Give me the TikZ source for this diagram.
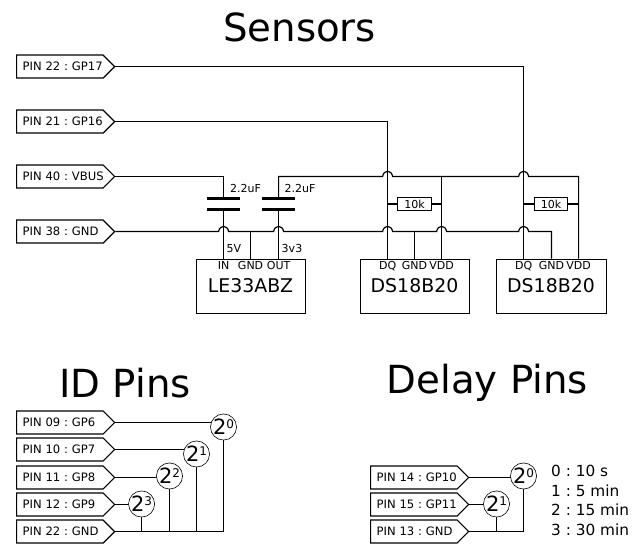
\documentclass[tikz,border=0pt]{standalone}
\usepackage{fontspec}
\setmainfont{DejaVu Sans}
\usetikzlibrary{shapes.symbols,backgrounds}
\frenchspacing
\newcommand\fs[1]{\fontsize{#1}{#1}\selectfont}
\newcommand\pn[1]{\makebox[0pt][l]{#1}}
\newcommand\hop[2]{-- ({#1-5},#2) .. controls ({#1-4},{#2-7}) and ({#1+4},{#2-7}) .. ({#1+5},#2)}
\tikzset{
 x=1pt,y=-1pt,
 wire/.style={line width=1.2pt,line join=miter},
 pinflag/.style={shape=signal,signal to=east,signal pointer angle=90,draw,line width=1.2pt,
   anchor=west,minimum height=23pt,text width=74.5pt,inner xsep=6pt,inner ysep=0pt,align=left,font=\fs{11.6}},
 title/.style={font=\fs{38.7}},
 chip/.style={draw,line width=1.2pt,minimum width=109.5pt,minimum height=54.5pt,anchor=north west},
 chipname/.style={font=\fs{18.9}},
 small/.style={font=\fs{11},inner sep=0pt,anchor=base},
 plate/.style={line width=2.6pt},
 resistor/.style={draw,line width=1.2pt,minimum width=33.5pt,minimum height=12.5pt,inner sep=0pt,font=\fs{11}},
 bit/.style={circle,draw,line width=0.6pt,fill=white,minimum size=21.5pt,inner sep=0pt},
 legend/.style={font=\fs{15.3},anchor=west,inner sep=0pt},
}
\newcommand\bitlabel[1]{\fs{21}2\raisebox{6pt}{\fs{12}#1}}
\begin{document}
\begin{tikzpicture}
\useasboundingbox (0,0) rectangle (641,556);
% titles
\node[title] (t1) at (299.5,27) {Sensors};
\node[title] (t2) at (125,383) {ID Pins};
\node[title] (t3) at (487.5,383) {Delay Pins};
% sensor pins
\node[pinflag] (p22) at (16,66.6) {\pn{PIN 22 : GP17}};
\node[pinflag] (p21) at (16,121.6) {\pn{PIN 21 : GP16}};
\node[pinflag] (p40) at (16,176.5) {\pn{PIN 40 : VBUS}};
\node[pinflag] (p38) at (16,231.6) {\pn{PIN 38 : GND}};
% chips
\node[chip] (le) at (195.7,258.7) {};
\node[chip] (ds1) at (359.7,258.7) {};
\node[chip] (ds2) at (496.2,258.7) {};
\node[chipname] (len) at (250.5,286) {LE33ABZ};
\node[chipname] (ds1n) at (414.5,286) {DS18B20};
\node[chipname] (ds2n) at (551,286) {DS18B20};
\foreach \n/\t/\x in {a/IN/223.6,b/GND/250.6,c/OUT/278.6,d/DQ/387.6,e/GND/414.5,f/VDD/441.6,g/DQ/523.6,h/GND/551.5,i/VDD/578.6}
  \node[small] (lab\n) at (\x,269.5) {\t};
\node[small] (v5) at (234,253) {5V};
\node[small] (v33) at (292,253) {3v3};
\node[small] (c1l) at (245.5,193) {2.2uF};
\node[small] (c2l) at (300,193) {2.2uF};
% anchors on chips
\coordinate (lein) at (223.6,258.7);
\coordinate (legnd) at (250.6,258.7);
\coordinate (leout) at (278.6,258.7);
\coordinate (d1q) at (387.6,258.7);
\coordinate (d1g) at (414.5,258.7);
\coordinate (d1v) at (441.6,258.7);
\coordinate (d2q) at (523.6,258.7);
\coordinate (d2g) at (551.5,258.7);
\coordinate (d2v) at (578.6,258.7);
% capacitors
\coordinate (c1a) at (223.6,198.6);
\coordinate (c1b) at (223.6,209.6);
\coordinate (c2a) at (278.6,198.6);
\coordinate (c2b) at (278.6,209.6);
\draw[plate] (207,198.6) -- (240,198.6);
\draw[plate] (207,209.6) -- (240,209.6);
\draw[plate] (262,198.6) -- (294.5,198.6);
\draw[plate] (262,209.6) -- (294.5,209.6);
% resistors
\node[resistor] (r1) at (414.5,204) {10k};
\node[resistor] (r2) at (551,204) {10k};
% wires
\draw[wire] (p22.east) -| (d2q);
\draw[wire] (p21.east) -| (d1q);
\draw[wire] (p40.east) -| (c1a);
\draw[wire] (c1b) -- (lein);
\draw[wire] (c2b) -- (leout);
\draw[wire] (c2a) |- (278.6,176.5) \hop{387.6}{176.5} \hop{523.6}{176.5} -- (578.6,176.5) -- (d2v);
\draw[wire] (441.6,176.5) -- (d1v);
\draw[wire] (p38.east) \hop{223.6}{231.6} \hop{278.6}{231.6} \hop{387.6}{231.6} \hop{441.6}{231.6} \hop{523.6}{231.6} -- (551.5,231.6) -- (d2g);
\draw[wire] (250.6,231.6) -- (legnd);
\draw[wire] (414.5,231.6) -- (d1g);
\draw[wire] (387.6,204) -- (r1.west);
\draw[wire] (r1.east) -- (441.6,204);
\draw[wire] (523.6,204) -- (r2.west);
\draw[wire] (r2.east) -- (578.6,204);
% ID pins
\node[pinflag] (i9) at (16,422.5) {\pn{PIN 09 : GP6}};
\node[pinflag] (i10) at (16,449.5) {\pn{PIN 10 : GP7}};
\node[pinflag] (i11) at (16,477.5) {\pn{PIN 11 : GP8}};
\node[pinflag] (i12) at (16,504.5) {\pn{PIN 12 : GP9}};
\node[pinflag] (i22) at (16,531.6) {\pn{PIN 22 : GND}};
\node[bit] (b0) at (223.5,427) {\bitlabel{0}};
\node[bit] (b1) at (196.5,454) {\bitlabel{1}};
\node[bit] (b2) at (169.5,476) {\bitlabel{2}};
\node[bit] (b3) at (141.6,504) {\bitlabel{3}};
% Delay pins
\node[pinflag] (d14) at (370,477.5) {\pn{PIN 14 : GP10}};
\node[pinflag] (d15) at (370,504.5) {\pn{PIN 15 : GP11}};
\node[pinflag] (d13) at (370,531.5) {\pn{PIN 13 : GND}};
\node[bit] (e0) at (523.5,476) {\bitlabel{0}};
\node[bit] (e1) at (496.5,504) {\bitlabel{1}};
\node[legend] (l0) at (551,471) {0 : 10 s};
\node[legend] (l1) at (551,490.5) {1 : 5 min};
\node[legend] (l2) at (551,510) {2 : 15 min};
\node[legend] (l3) at (551,529.5) {3 : 30 min};
\begin{scope}[on background layer]
\draw[wire] (i9.east) -- (i9.east -| b0.center);
\draw[wire] (i10.east) -- (i10.east -| b1.center);
\draw[wire] (i11.east) -- (i11.east -| b2.center);
\draw[wire] (i12.east) -- (i12.east -| b3.center);
\draw[wire] (i22.east) -| (b0.south);
\draw[wire] (b1.south) -- (b1.south |- i22.east);
\draw[wire] (b2.south) -- (b2.south |- i22.east);
\draw[wire] (b3.south) -- (b3.south |- i22.east);
\draw[wire] (d14.east) -- (d14.east -| e0.center);
\draw[wire] (d15.east) -- (d15.east -| e1.center);
\draw[wire] (d13.east) -| (e0.south);
\draw[wire] (e1.south) -- (e1.south |- d13.east);
\end{scope}
\end{tikzpicture}
\end{document}
